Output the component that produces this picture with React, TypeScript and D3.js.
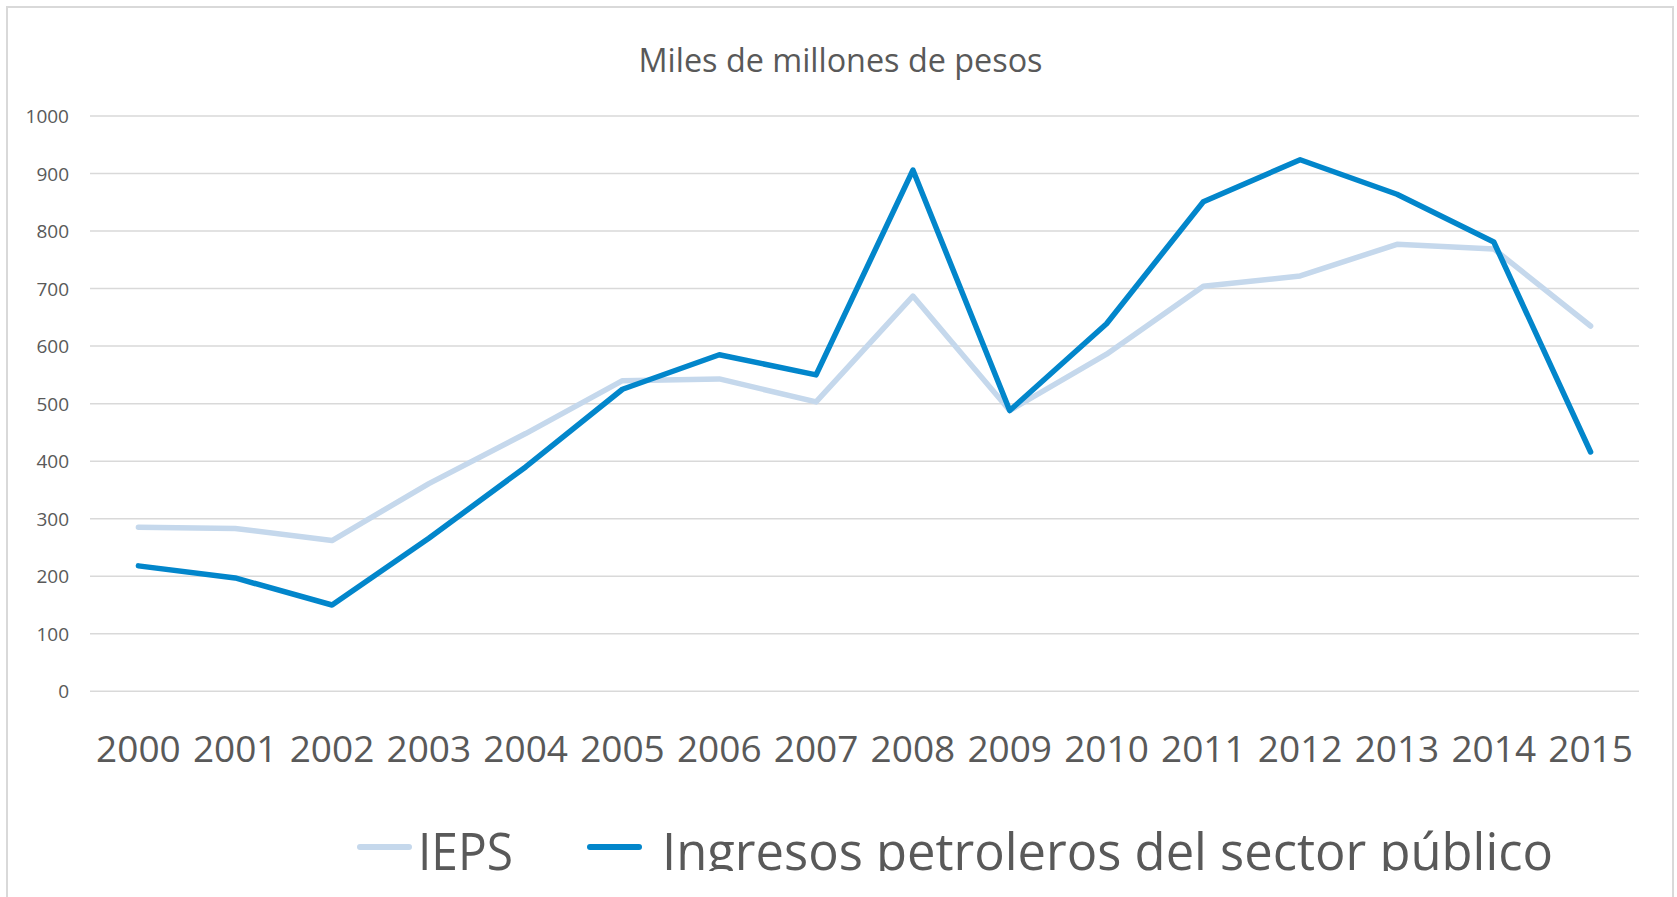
import React from "react";
import * as d3 from "d3";

const years = ["2000","2001","2002","2003","2004","2005","2006","2007","2008","2009","2010","2011","2012","2013","2014","2015"];
const iepsValues = [285, 283, 262, 361, 448, 540, 543, 503, 687, 488, 586, 704, 722, 777, 769, 635];
const petroleoValues = [218, 197, 150, 266, 390, 525, 585, 550, 906, 488, 639, 851, 924, 864, 781, 416];
const yTicks = [0, 100, 200, 300, 400, 500, 600, 700, 800, 900, 1000];
const titleText = "Miles de millones de pesos";
const seriesNames = ["IEPS", "Ingresos petroleros del sector público"];

const W = 1677;
const H = 897;
const FONT = "'Open Sans', 'Noto Sans', sans-serif";
const TEXT = "#595959";
const GRID = "#d9d9d9";
const LIGHT = "#c5d8ec";
const DARK = "#0286cb";

export default function App() {
  const x = d3.scaleBand<string>().domain(years).range([90, 1639]).padding(0);
  const cx = (d: string) => (x(d) as number) + x.bandwidth() / 2;
  const y = d3.scaleLinear().domain([0, 1000]).range([691.3, 116]);

  const line = d3
    .line<number>()
    .x((_, i) => cx(years[i]))
    .y((v) => y(v));

  return (
    <svg
      width={W}
      height={H}
      style={{ position: "absolute", left: 0, top: 0, background: "#fff" }}
      fontFamily={FONT}
    >
      <defs>
        <clipPath id="legendClip">
          <rect x={0} y={0} width={W} height={871} />
        </clipPath>
      </defs>
      <rect x={0} y={0} width={W} height={H} fill="#fff" />
      <rect x={7} y={7} width={1666} height={910} fill="#fff" stroke={GRID} strokeWidth={2} />

      <text
        x={840.5}
        y={72}
        textAnchor="middle"
        fontSize={33}
        fill={TEXT}
        textLength={404}
        lengthAdjust="spacingAndGlyphs"
      >
        {titleText}
      </text>

      {yTicks.map((t) => (
        <g key={t}>
          <line x1={90} x2={1639} y1={y(t)} y2={y(t)} stroke={GRID} strokeWidth={1.5} />
          <text x={69} y={y(t) + 7} textAnchor="end" fontSize={19} fill={TEXT}>
            {t}
          </text>
        </g>
      ))}

      {years.map((yr) => (
        <text key={yr} x={cx(yr)} y={762} textAnchor="middle" fontSize={37} fill={TEXT}>
          {yr}
        </text>
      ))}

      <path
        d={line(iepsValues) || ""}
        fill="none"
        stroke={LIGHT}
        strokeWidth={5.5}
        strokeLinejoin="round"
        strokeLinecap="round"
      />
      <path
        d={line(petroleoValues) || ""}
        fill="none"
        stroke={DARK}
        strokeWidth={5.5}
        strokeLinejoin="round"
        strokeLinecap="round"
      />

      <g clipPath="url(#legendClip)">
        <line x1={360} x2={409} y1={847} y2={847} stroke={LIGHT} strokeWidth={6} strokeLinecap="round" />
        <text x={418} y={870} fontSize={51} fill={TEXT} textLength={95} lengthAdjust="spacingAndGlyphs">
          {seriesNames[0]}
        </text>
        <line x1={590} x2={639} y1={847} y2={847} stroke={DARK} strokeWidth={6} strokeLinecap="round" />
        <text x={662} y={870} fontSize={51} fill={TEXT} textLength={891} lengthAdjust="spacingAndGlyphs">
          {seriesNames[1]}
        </text>
      </g>
    </svg>
  );
}
